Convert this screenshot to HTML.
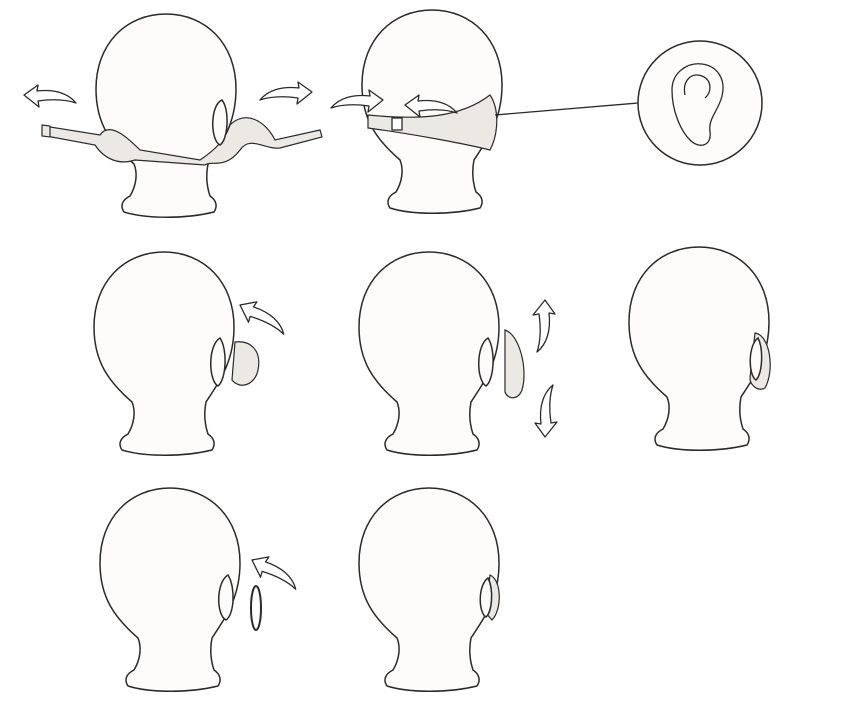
<!DOCTYPE html>
<html><head><meta charset="utf-8"><style>
html,body{margin:0;padding:0;background:#fff;}
svg{display:block;}
.h{fill:#fdfcfa;stroke:#2a2a2a;stroke-width:1.5;}
.m{fill:#ece8e3;stroke:#2a2a2a;stroke-width:1.2;}
.a{fill:#fff;stroke:#2a2a2a;stroke-width:1.3;stroke-linejoin:round;}
.l{fill:none;stroke:#2a2a2a;stroke-width:1.3;}
</style></head><body>
<svg width="847" height="713" viewBox="0 0 847 713">
<defs>
<path id="head" d="M0,0 C40,0 70,30 70,75 C70,110 55,130 42,150 C40,160 40,170 44,182 C50,186 52,192 48,198 C20,205 -20,205 -42,198 C-46,192 -44,186 -36,182 C-30,172 -28,160 -32,150 C-55,130 -70,110 -70,75 C-70,30 -40,0 0,0 Z"/>
<path id="arrow" d="M0,0 L14,-10 L13,-4 C30,-6 44,-2 52,8 C40,4 28,4 14,6 L15,12 Z"/>
</defs>

<g>
  <use href="#head" class="h" x="166" y="14"/>
  <path class="m" d="M44,126 L100,135 C110,120 130,140 140,150 L200,160 C215,150 225,140 230,125 C245,110 265,120 275,140 L320,130 L322,137 L280,148 C265,150 250,135 240,150 C225,170 210,160 205,165 L135,160 C120,165 105,160 95,145 L46,136 Z"/>
  <path class="m" d="M42,125 L50,126 L50,137 L42,136 Z"/>
  <path class="h" d="M222,100 C210,105 210,140 220,145 C228,140 230,110 222,100 Z"/>
  <use href="#arrow" class="a" transform="translate(24,95)"/>
  <use href="#arrow" class="a" transform="translate(312,92) scale(-1,1)"/>
</g>

<g>
  <use href="#head" class="h" x="432" y="10"/>
  <path class="m" d="M368,115 C420,120 460,118 490,95 C500,110 498,135 490,150 C470,145 420,135 368,128 Z"/>
  <rect x="392" y="118" width="10" height="12" class="a"/>
  <use href="#arrow" class="a" transform="translate(383,100) scale(-1,1)"/>
  <use href="#arrow" class="a" transform="translate(405,105)"/>
  <line x1="495" y1="115" x2="638" y2="103" class="l"/>
  <circle cx="700" cy="103" r="62" class="h"/>
  <path class="l" d="M690,140 C680,130 672,110 672,90 C672,72 688,62 702,64 C718,66 726,80 722,96 C718,112 708,118 710,132 C712,145 700,150 690,140 M685,95 C682,80 692,72 702,76 C712,80 712,92 705,98"/>
</g>

<g>
  <use href="#head" class="h" x="164" y="252"/>
  <path class="m" d="M235,342 C250,340 262,350 258,370 C255,385 240,390 232,380 Z"/>
  <path class="h" d="M220,338 C208,345 208,380 218,386 C226,380 228,350 220,338 Z"/>
  <use href="#arrow" class="a" transform="translate(240,305) rotate(25)"/>
</g>

<g>
  <use href="#head" class="h" x="429" y="252"/>
  <path class="m" d="M505,330 C520,335 528,370 522,390 C518,400 508,400 505,392 Z"/>
  <path class="h" d="M488,338 C476,345 476,380 486,386 C494,380 496,350 488,338 Z"/>
  <use href="#arrow" class="a" transform="translate(545,300) rotate(90)"/>
  <use href="#arrow" class="a" transform="translate(545,437) rotate(-90)"/>
</g>

<g>
  <use href="#head" class="h" x="699" y="247"/>
  <path class="m" d="M755,333 C770,335 775,370 765,388 C758,392 750,385 750,378 Z"/>
  <path class="h" d="M758,338 C748,345 748,375 756,380 C762,375 764,350 758,338 Z"/>
</g>

<g>
  <use href="#head" class="h" x="170" y="488"/>
  <path class="h" d="M228,575 C216,582 216,615 226,620 C234,615 236,588 228,575 Z"/>
  <ellipse cx="256" cy="608" rx="5" ry="22" class="a" style="stroke-width:2"/>
  <use href="#arrow" class="a" transform="translate(252,560) rotate(25)"/>
</g>

<g>
  <use href="#head" class="h" x="429" y="488"/>
  <path class="m" d="M490,575 C502,580 502,610 492,620 L485,612 Z"/>
  <path class="h" d="M488,578 C478,585 478,612 486,617 C492,612 494,590 488,578 Z"/>
</g>
</svg>
</body></html>
